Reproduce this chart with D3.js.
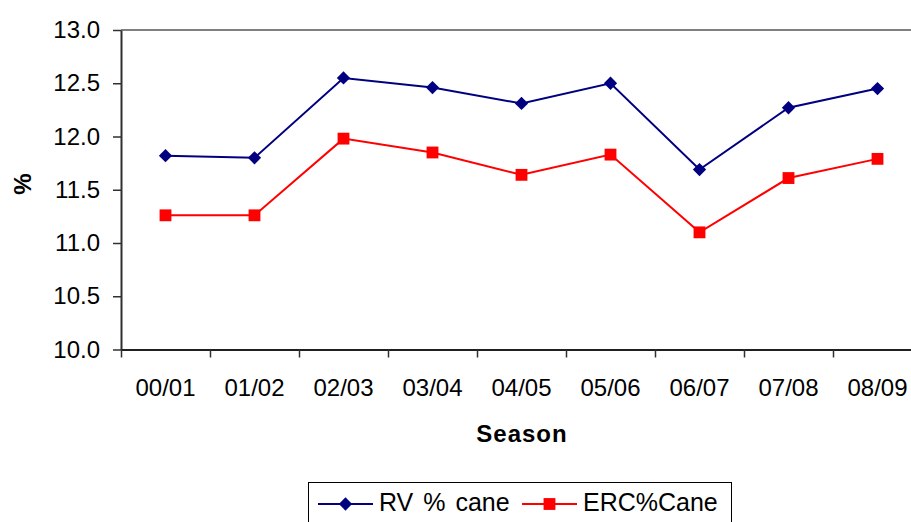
<!DOCTYPE html>
<html>
<head>
    <meta charset="utf-8">
    <title>RV and ERC % cane by season</title>
    <script src="https://d3js.org/d3.v7.min.js"></script>
    <style>
        body { margin: 0; padding: 0; background: #fff; }
        svg { display: block; font-family: "Liberation Sans", Arial, sans-serif; }
        .tick text { fill: #000; }
    </style>
</head>
<body>
    <svg id="chart" width="911" height="522"></svg>
    <script>
        // Chart data
        const seasons = ["00/01", "01/02", "02/03", "03/04", "04/05", "05/06", "06/07", "07/08", "08/09"];
        const rvCane = [11.82, 11.80, 12.55, 12.46, 12.31, 12.50, 11.69, 12.27, 12.45];
        const ercCane = [11.26, 11.26, 11.98, 11.85, 11.64, 11.83, 11.10, 11.61, 11.79];
        const yTicks = [10.0, 10.5, 11.0, 11.5, 12.0, 12.5, 13.0];
        const seriesNames = ["RV % cane", "ERC%Cane"];

        const series = [
            { name: seriesNames[0], values: rvCane, color: "#000080", symbol: "diamond" },
            { name: seriesNames[1], values: ercCane, color: "#ff0000", symbol: "square" }
        ];

        const svg = d3.select("#chart");
        const plot = { left: 121, top: 30, right: 922, bottom: 349.5 };

        // Scales: band for labels, linear index for boundary ticks and points.
        const x = d3.scaleBand().domain(seasons).range([plot.left, plot.right]).padding(0);
        const xIdx = d3.scaleLinear().domain([0, seasons.length]).range([plot.left, plot.right]);
        const y = d3.scaleLinear().domain([10, 13]).range([plot.bottom, plot.top]);

        // Top border of the plot area
        svg.append("line")
            .attr("x1", plot.left).attr("x2", plot.right)
            .attr("y1", plot.top).attr("y2", plot.top)
            .attr("stroke", "#808080").attr("stroke-width", 2);

        // Y axis
        const yAxis = svg.append("g")
            .attr("transform", `translate(${plot.left},0)`)
            .call(d3.axisLeft(y).tickValues(yTicks).tickFormat(d3.format(".1f"))
                .tickSize(8).tickPadding(13).tickSizeOuter(0));
        yAxis.selectAll("text").style("font-size", "24px");
        yAxis.selectAll("line").attr("stroke", "#303030").attr("stroke-width", 1.5);
        yAxis.select(".domain").attr("stroke", "#303030").attr("stroke-width", 2);

        // X axis boundary ticks
        const xTicks = svg.append("g")
            .attr("transform", `translate(0,${plot.bottom})`)
            .call(d3.axisBottom(xIdx).tickValues(d3.range(seasons.length + 1))
                .tickFormat("").tickSize(8).tickSizeOuter(0));
        xTicks.selectAll("line").attr("stroke", "#303030").attr("stroke-width", 1.5);
        xTicks.select(".domain").attr("stroke", "#202020").attr("stroke-width", 2);

        // X axis labels
        const xLabels = svg.append("g")
            .attr("transform", `translate(0,${plot.bottom})`)
            .call(d3.axisBottom(x).tickSize(0).tickPadding(29));
        xLabels.select(".domain").remove();
        xLabels.selectAll("text").style("font-size", "24px");

        // Axis titles
        svg.append("text")
            .attr("x", 522).attr("y", 441.5)
            .attr("text-anchor", "middle")
            .style("font-size", "24px").style("font-weight", "bold")
            .style("letter-spacing", "1px")
            .text("Season");

        svg.append("text")
            .attr("transform", "translate(31,184) rotate(-90)")
            .attr("text-anchor", "middle")
            .style("font-size", "24px").style("font-weight", "bold")
            .text("%");

        function marker(type) {
            return type === "diamond"
                ? d3.symbol(d3.symbolSquare, 88)()
                : d3.symbol(d3.symbolSquare, 140)();
        }
        function markerRotate(type) {
            return type === "diamond" ? " rotate(45)" : "";
        }

        // Lines and markers
        const line = d3.line()
            .x((d, i) => xIdx(i + 0.5))
            .y(d => y(d));

        series.forEach(s => {
            svg.append("path")
                .datum(s.values)
                .attr("fill", "none")
                .attr("stroke", s.color)
                .attr("stroke-width", 2)
                .attr("d", line);

            svg.append("g").selectAll("path")
                .data(s.values)
                .join("path")
                .attr("d", marker(s.symbol))
                .attr("transform", (d, i) => `translate(${xIdx(i + 0.5)},${y(d)})${markerRotate(s.symbol)}`)
                .attr("fill", s.color);
        });

        // Legend
        const legend = svg.append("g");
        legend.append("rect")
            .attr("x", 308.5).attr("y", 482.5)
            .attr("width", 423).attr("height", 60)
            .attr("fill", "#fff").attr("stroke", "#000").attr("stroke-width", 1);

        const legendX = [318, 522];
        series.forEach((s, i) => {
            const g = legend.append("g").attr("transform", `translate(${legendX[i]},504)`);
            g.append("line")
                .attr("x1", 0).attr("x2", 55)
                .attr("stroke", s.color).attr("stroke-width", 2);
            g.append("path")
                .attr("d", marker(s.symbol))
                .attr("transform", `translate(27.5,0)${markerRotate(s.symbol)}`)
                .attr("fill", s.color);
            g.append("text")
                .attr("x", 61).attr("y", 7)
                .style("font-size", "25px")
                .style("word-spacing", "3px")
                .text(s.name);
        });
    </script>
</body>
</html>
